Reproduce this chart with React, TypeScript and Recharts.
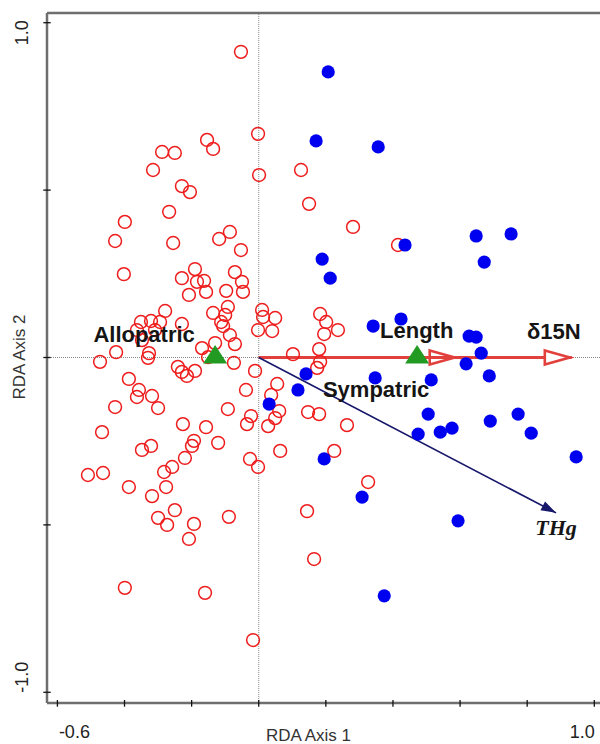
import React from 'react'
import { ScatterChart, Scatter, XAxis, YAxis, ReferenceLine } from 'recharts'

// sample scores (RDA axis 1, RDA axis 2)
const allopatric = [
  { x: -0.053, y: 0.913 }, { x: -0.002, y: 0.668 }, { x: 0.001, y: 0.545 }, { x: -0.154, y: 0.65 },
  { x: -0.136, y: 0.623 }, { x: -0.288, y: 0.614 }, { x: -0.25, y: 0.611 }, { x: -0.315, y: 0.56 },
  { x: -0.229, y: 0.512 }, { x: -0.205, y: 0.494 }, { x: -0.267, y: 0.435 }, { x: -0.399, y: 0.405 },
  { x: -0.428, y: 0.348 }, { x: -0.255, y: 0.342 }, { x: -0.118, y: 0.354 }, { x: -0.086, y: 0.375 },
  { x: -0.053, y: 0.321 }, { x: -0.402, y: 0.249 }, { x: -0.19, y: 0.264 }, { x: -0.229, y: 0.237 },
  { x: -0.184, y: 0.226 }, { x: -0.163, y: 0.229 }, { x: -0.071, y: 0.255 }, { x: -0.05, y: 0.226 },
  { x: -0.208, y: 0.187 }, { x: -0.157, y: 0.196 }, { x: -0.097, y: 0.199 }, { x: -0.047, y: 0.196 },
  { x: -0.279, y: 0.139 }, { x: -0.092, y: 0.151 }, { x: -0.136, y: 0.133 }, { x: -0.1, y: 0.127 },
  { x: 0.01, y: 0.142 }, { x: 0.013, y: 0.121 }, { x: 0.049, y: 0.118 }, { x: -0.351, y: 0.106 },
  { x: -0.321, y: 0.109 }, { x: -0.294, y: 0.106 }, { x: -0.229, y: 0.1 }, { x: -0.112, y: 0.106 },
  { x: -0.106, y: 0.094 }, { x: -0.363, y: 0.082 }, { x: -0.309, y: 0.082 }, { x: -0.348, y: 0.052 },
  { x: -0.086, y: 0.067 }, { x: -0.002, y: 0.082 }, { x: 0.04, y: 0.079 }, { x: -0.071, y: 0.04 },
  { x: -0.169, y: 0.028 }, { x: -0.13, y: 0.043 }, { x: -0.425, y: 0.016 }, { x: -0.473, y: -0.013 },
  { x: -0.327, y: 0.013 }, { x: -0.33, y: -0.001 }, { x: -0.151, y: 0.001 }, { x: -0.074, y: -0.016 },
  { x: 0.126, y: 0.56 }, { x: 0.15, y: 0.459 }, { x: 0.281, y: 0.39 }, { x: 0.415, y: 0.336 },
  { x: 0.183, y: 0.13 }, { x: 0.201, y: 0.106 }, { x: 0.236, y: 0.082 }, { x: 0.195, y: 0.07 },
  { x: 0.18, y: 0.025 }, { x: 0.102, y: 0.01 }, { x: 0.183, y: -0.013 }, { x: 0.174, y: -0.031 },
  { x: -0.241, y: -0.028 }, { x: -0.229, y: -0.043 }, { x: -0.214, y: -0.055 }, { x: -0.19, y: -0.04 },
  { x: -0.011, y: -0.04 }, { x: -0.387, y: -0.064 }, { x: -0.357, y: -0.097 }, { x: -0.363, y: -0.118 },
  { x: -0.318, y: -0.115 }, { x: -0.3, y: -0.151 }, { x: -0.428, y: -0.148 }, { x: -0.038, y: -0.097 },
  { x: -0.092, y: -0.154 }, { x: -0.023, y: -0.175 }, { x: -0.035, y: -0.199 }, { x: -0.467, y: -0.223 },
  { x: -0.226, y: -0.199 }, { x: -0.157, y: -0.208 }, { x: -0.348, y: -0.276 }, { x: -0.321, y: -0.264 },
  { x: -0.193, y: -0.249 }, { x: -0.199, y: -0.264 }, { x: -0.121, y: -0.255 }, { x: -0.22, y: -0.3 },
  { x: -0.258, y: -0.327 }, { x: -0.282, y: -0.342 }, { x: -0.026, y: -0.303 }, { x: -0.002, y: -0.327 },
  { x: -0.509, y: -0.351 }, { x: -0.464, y: -0.345 }, { x: -0.387, y: -0.387 }, { x: -0.276, y: -0.387 },
  { x: -0.318, y: -0.414 }, { x: -0.25, y: -0.456 }, { x: -0.3, y: -0.479 }, { x: -0.273, y: -0.5 },
  { x: -0.193, y: -0.497 }, { x: -0.089, y: -0.476 }, { x: -0.208, y: -0.542 }, { x: -0.399, y: -0.688 },
  { x: -0.16, y: -0.703 }, { x: -0.017, y: -0.844 }, { x: 0.055, y: -0.079 }, { x: 0.037, y: -0.112 },
  { x: 0.061, y: -0.16 }, { x: 0.049, y: -0.181 }, { x: 0.028, y: -0.205 }, { x: 0.147, y: -0.163 },
  { x: 0.18, y: -0.169 }, { x: 0.263, y: -0.202 }, { x: 0.064, y: -0.279 }, { x: 0.225, y: -0.279 },
  { x: 0.326, y: -0.372 }, { x: 0.144, y: -0.459 }, { x: 0.165, y: -0.602 },
]

const sympatric = [
  { x: 0.207, y: 0.853 }, { x: 0.171, y: 0.647 }, { x: 0.356, y: 0.629 }, { x: 0.648, y: 0.363 },
  { x: 0.752, y: 0.369 }, { x: 0.672, y: 0.285 }, { x: 0.436, y: 0.336 }, { x: 0.189, y: 0.294 },
  { x: 0.213, y: 0.237 }, { x: 0.424, y: 0.115 }, { x: 0.341, y: 0.094 }, { x: 0.627, y: 0.064 },
  { x: 0.648, y: 0.061 }, { x: 0.663, y: 0.013 }, { x: 0.618, y: -0.019 }, { x: 0.141, y: -0.049 },
  { x: 0.117, y: -0.097 }, { x: 0.031, y: -0.139 }, { x: 0.347, y: -0.061 }, { x: 0.514, y: -0.067 },
  { x: 0.687, y: -0.055 }, { x: 0.505, y: -0.169 }, { x: 0.475, y: -0.229 }, { x: 0.541, y: -0.223 },
  { x: 0.576, y: -0.211 }, { x: 0.69, y: -0.19 }, { x: 0.773, y: -0.169 }, { x: 0.812, y: -0.226 },
  { x: 0.946, y: -0.297 }, { x: 0.195, y: -0.303 }, { x: 0.308, y: -0.417 }, { x: 0.594, y: -0.488 },
  { x: 0.374, y: -0.712 },
]

// nominal variable centroids
const centroids = [
  { name: 'Allopatric', x: -0.13, y: 0 },
  { name: 'Sympatric', x: 0.472, y: 0 },
]

// environmental variable arrows
const envArrows = [
  { name: 'Length', x: 0.59, y: 0 },
  { name: 'δ15N', x: 0.933, y: 0 },
  { name: 'THg', x: 0.886, y: -0.464 },
]

const X_TICKS = [-0.6, -0.4, -0.2, 0, 0.2, 0.4, 0.6, 0.8, 1.0]
const Y_TICKS = [-1.0, -0.5, 0, 0.5, 1.0]
const X_DOMAIN = [-0.631, 1.017]
const Y_DOMAIN = [-1.032, 1.029]

const AXIS_GRAY = '#6e6e6e'
const RED = '#e2403c'
const SANS = '"Liberation Sans", Arial, sans-serif'

// label offsets in px from the anchor point
const labelOffsets: Record<string, { dx: number; dy: number }> = {
  Allopatric: { dx: -71, dy: -15.5 },
  Sympatric: { dx: -41, dy: 39.5 },
  Length: { dx: -40, dy: -19 },
  'δ15N': { dx: -18, dy: -18.5 },
  THg: { dx: 0, dy: 22 },
}

const XTick = (props: any) => {
  const { x, y, payload } = props
  const v = payload.value
  return (
    <g>
      <line x1={x} x2={x} y1={y - 3} y2={y + 3.7} stroke="#111" strokeWidth={1.3} />
      {v === -0.6 && (
        <text x={x + 17} y={738} textAnchor="middle" fontSize={18} fontFamily={SANS} fill="#222">-0.6</text>
      )}
      {v === 1 && (
        <text x={x - 12} y={738} textAnchor="middle" fontSize={18} fontFamily={SANS} fill="#222">1.0</text>
      )}
    </g>
  )
}

const YTick = (props: any) => {
  const { x, y, payload } = props
  const v = payload.value
  const lbl = v === 1 ? '1.0' : v === -1 ? '-1.0' : null
  const cy = v === 1 ? y + 10 : y - 15
  return (
    <g>
      <line x1={x - 3.7} x2={x + 3.7} y1={y} y2={y} stroke="#111" strokeWidth={1.3} />
      {lbl && (
        <text x={22} y={cy} transform={`rotate(-90, 22, ${cy})`} textAnchor="middle" dominantBaseline="central"
          fontSize={18} fontFamily={SANS} fill="#222">{lbl}</text>
      )}
    </g>
  )
}

const OpenCircle = (p: any) => (
  <circle cx={p.cx} cy={p.cy} r={6.4} fill="none" stroke="#ee1c1c" strokeWidth={1.5} />
)
const FilledCircle = (p: any) => <circle cx={p.cx} cy={p.cy} r={6.6} fill="#0000f0" />
const Triangle = (p: any) => (
  <polygon points={`${p.cx - 12},${p.cy + 6} ${p.cx + 12},${p.cy + 6} ${p.cx},${p.cy - 12.5}`} fill="#239b23" />
)
const NameLabel = (p: any) => {
  const name = p.payload?.name
  const off = labelOffsets[name] || { dx: 0, dy: 0 }
  const isTHg = name === 'THg'
  return (
    <text x={p.cx + off.dx} y={p.cy + off.dy} textAnchor="middle" fontSize={22} fontWeight="bold"
      fontStyle={isTHg ? 'italic' : 'normal'}
      fontFamily={isTHg ? '"Liberation Serif", "Times New Roman", serif' : SANS} fill="#151515">
      {name}
    </text>
  )
}

export default function App() {
  return (
    <div style={{ position: 'absolute', left: 0, top: 0, width: 600, height: 744, background: '#fff' }}>
      <svg width={0} height={0} style={{ position: 'absolute' }}>
        <defs>
          <marker id="openHead" markerUnits="userSpaceOnUse" viewBox="0 0 34 22" markerWidth={34} markerHeight={22}
            refX={31} refY={11} orient="auto" overflow="visible">
            <path d="M4,4 L29,11 L4,18 Z" fill="#fff" stroke={RED} strokeWidth={2.6} />
          </marker>
          <marker id="navyHead" markerUnits="userSpaceOnUse" viewBox="0 0 16 12" markerWidth={16} markerHeight={12}
            refX={15} refY={6} orient="auto" overflow="visible">
            <path d="M0,1 L15,6 L0,11 Z" fill="#17176b" />
          </marker>
        </defs>
      </svg>
      <ScatterChart width={600} height={744} margin={{ top: 13, right: 0, bottom: 0, left: 0 }}>
        <XAxis type="number" dataKey="x" domain={X_DOMAIN} ticks={X_TICKS} allowDataOverflow interval={0}
          height={41} tickSize={0} tickMargin={0} tick={<XTick />} tickLine={false}
          axisLine={{ stroke: AXIS_GRAY, strokeWidth: 2.5 }} />
        <YAxis type="number" dataKey="y" domain={Y_DOMAIN} ticks={Y_TICKS} allowDataOverflow interval={0}
          width={47} tickSize={0} tickMargin={0} tick={<YTick />} tickLine={false}
          axisLine={{ stroke: AXIS_GRAY, strokeWidth: 2.5 }} />
        <ReferenceLine y={Y_DOMAIN[1]} stroke={AXIS_GRAY} strokeWidth={2.5} ifOverflow="visible" />
        <ReferenceLine x={0} stroke="#888" strokeDasharray="1 1" />
        <ReferenceLine y={0} stroke="#888" strokeDasharray="1 1" />
        <Scatter data={allopatric} shape={OpenCircle} isAnimationActive={false} />
        <Scatter data={sympatric} shape={FilledCircle} isAnimationActive={false} />
        {envArrows.map((a) => (
          <ReferenceLine key={a.name} segment={[{ x: 0, y: 0 }, { x: a.x, y: a.y }]}
            stroke={a.name === 'THg' ? '#17176b' : RED} strokeWidth={a.name === 'THg' ? 1.6 : 3}
            markerEnd={a.name === 'THg' ? 'url(#navyHead)' : 'url(#openHead)'} ifOverflow="visible" />
        ))}
        <Scatter data={centroids} shape={Triangle} isAnimationActive={false} />
        <Scatter data={[...centroids, ...envArrows]} shape={NameLabel} isAnimationActive={false} />
      </ScatterChart>
      <div style={{ position: 'absolute', left: 265, top: 723, fontFamily: SANS, fontSize: 17, color: '#333', width: 87, textAlign: 'center', display: 'none' }} />
      <svg width={600} height={744} style={{ position: 'absolute', left: 0, top: 0, pointerEvents: 'none' }}>
        <text x={308.5} y={741} textAnchor="middle" fontSize={17} fontFamily={SANS} fill="#333">RDA Axis 1</text>
        <text x={19} y={357} transform="rotate(-90, 19, 357)" textAnchor="middle" dominantBaseline="central"
          fontSize={17} fontFamily={SANS} fill="#333">RDA Axis 2</text>
      </svg>
    </div>
  )
}
